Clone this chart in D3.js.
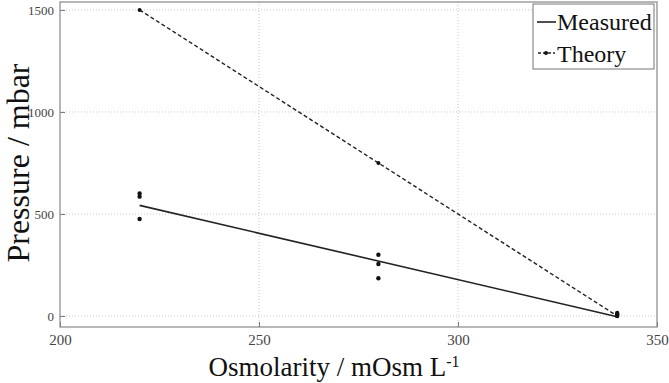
<!DOCTYPE html>
<html>
<head>
<meta charset="utf-8">
<script src="https://cdn.jsdelivr.net/npm/d3@7"></script>
<style>
body{margin:0;background:#fff;}
</style>
</head>
<body>
<script>
// measured points (osmolarity, pressure)
var measX = [220,220,220,280,280,280,340,340,340];
var measY = [600,585,475,300,255,185,15,8,0];
// theory
var theoX = [220,280,340];
var theoY = [1500,750,0];
var xTicks = [200,250,300,350];
var yTicks = [0,500,1000,1500];

var W = 669, H = 383;
var margin = {left:60,right:12,top:2,bottom:56};
var serif = "'Liberation Serif', 'Times New Roman', Tinos, 'DejaVu Serif', serif";

var x = d3.scaleLinear().domain([200,350]).range([margin.left, W-margin.right]);
var y = d3.scaleLinear().domain([-54,1539]).range([H-margin.bottom, margin.top]);

var svg = d3.select("body").append("svg").attr("width",W).attr("height",H);

// grid
svg.append("g").selectAll("line").data(xTicks.slice(1,-1)).enter().append("line")
  .attr("x1",d=>x(d)).attr("x2",d=>x(d)).attr("y1",y.range()[0]).attr("y2",y.range()[1])
  .attr("stroke","#c8c8c8").attr("stroke-dasharray","1,2");
svg.append("g").selectAll("line").data(yTicks).enter().append("line")
  .attr("x1",x.range()[0]).attr("x2",x.range()[1]).attr("y1",d=>y(d)).attr("y2",d=>y(d))
  .attr("stroke","#c8c8c8").attr("stroke-dasharray","1,2");

// axes, ticks inward
var xAxis = d3.axisBottom(x).tickValues(xTicks).tickFormat(d3.format("d")).tickSize(-5).tickPadding(7);
var yAxis = d3.axisLeft(y).tickValues(yTicks).tickFormat(d3.format("d")).tickSize(-5).tickPadding(6);
var gx = svg.append("g").attr("transform","translate(0,"+y.range()[0]+")").call(xAxis);
var gy = svg.append("g").attr("transform","translate("+x.range()[0]+",0)").call(yAxis);
gx.attr("font-family",serif).attr("font-size",15);
gy.attr("font-family",serif).attr("font-size",13);
[gx,gy].forEach(function(g){
  g.select(".domain").remove();
  g.selectAll("line").attr("stroke","#777");
  g.selectAll("text").attr("fill","#444");
});

// frame
svg.append("rect").attr("x",x.range()[0]).attr("y",y.range()[1])
  .attr("width",x.range()[1]-x.range()[0]).attr("height",y.range()[0]-y.range()[1])
  .attr("fill","none").attr("stroke","#888").attr("stroke-width",1.2);

// least squares fit to measured
var mx = d3.mean(measX), my = d3.mean(measY);
var sxy = d3.sum(measX,(v,i)=>(v-mx)*(measY[i]-my)), sxx = d3.sum(measX,v=>(v-mx)*(v-mx));
var slope = sxy/sxx, icpt = my - slope*mx;
var fitX = [220,340];
var line = d3.line().x(d=>x(d[0])).y(d=>y(d[1]));

svg.append("path").attr("d",line(fitX.map(v=>[v,icpt+slope*v])))
  .attr("fill","none").attr("stroke","#222").attr("stroke-width",1.6);

svg.append("path").attr("d",line(theoX.map((v,i)=>[v,theoY[i]])))
  .attr("fill","none").attr("stroke","#222").attr("stroke-width",1.4).attr("stroke-dasharray","4,2.5");

svg.append("g").selectAll("circle").data(theoX).enter().append("circle")
  .attr("cx",d=>x(d)).attr("cy",(d,i)=>y(theoY[i])).attr("r",2).attr("fill","#111");
svg.append("g").selectAll("circle").data(measX).enter().append("circle")
  .attr("cx",d=>x(d)).attr("cy",(d,i)=>y(measY[i])).attr("r",2.2).attr("fill","#111");

// legend
var lg = svg.append("g").attr("transform","translate(533,4)");
lg.append("rect").attr("width",121).attr("height",65).attr("fill","#fff").attr("stroke","#777");
lg.append("line").attr("x1",4).attr("x2",23).attr("y1",18).attr("y2",18).attr("stroke","#222").attr("stroke-width",1.6);
lg.append("line").attr("x1",5).attr("x2",22).attr("y1",49).attr("y2",49).attr("stroke","#222").attr("stroke-width",1.4).attr("stroke-dasharray","3,2");
lg.append("circle").attr("cx",13).attr("cy",49).attr("r",2).attr("fill","#111");
lg.append("text").attr("x",24).attr("y",26).text("Measured").attr("font-family",serif).attr("font-size",24).attr("fill","#111");
lg.append("text").attr("x",24).attr("y",58).text("Theory").attr("font-family",serif).attr("font-size",24).attr("fill","#111");

// axis labels
var xl = svg.append("text").attr("x",334).attr("y",376)
  .attr("text-anchor","middle").attr("font-family",serif).attr("font-size",27).attr("fill","#111");
xl.append("tspan").text("Osmolarity / mOsm L");
xl.append("tspan").attr("dy",-9).attr("font-size",16).text("-1");

svg.append("text").attr("transform","translate(29,163) rotate(-90)")
  .attr("text-anchor","middle").attr("font-family",serif).attr("font-size",32).attr("fill","#111").text("Pressure / mbar");
</script>
</body>
</html>
